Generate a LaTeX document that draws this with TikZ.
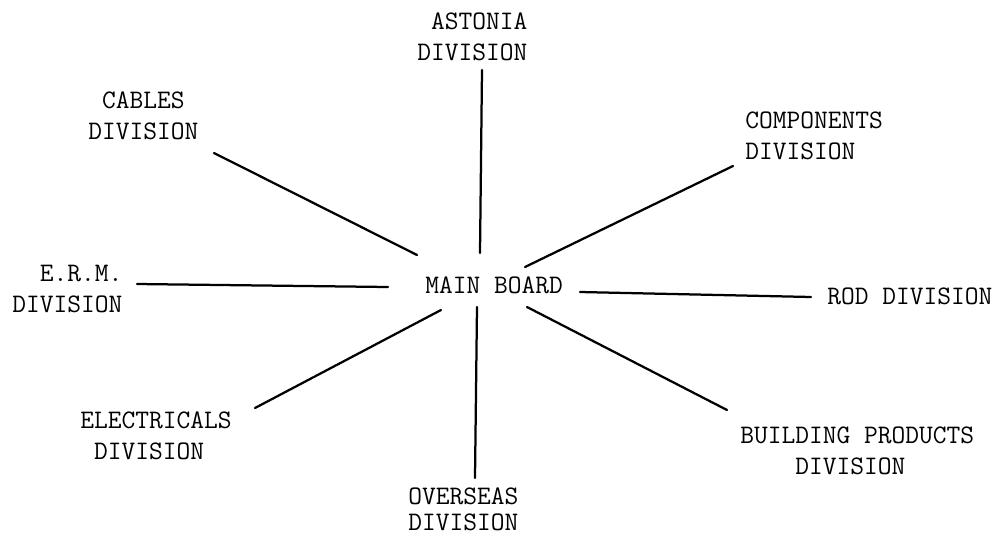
\documentclass[tikz,border=0pt]{standalone}
\usepackage{tikz}
\tikzset{
  division/.style={anchor=north west, inner sep=0pt, align=left,
    font=\ttfamily\fontsize{19}{22}\selectfont},
  spoke/.style={line width=1.6pt, line cap=round},
}

\begin{document}
\begin{tikzpicture}[x=0.025cm, y=-0.025cm]
 \useasboundingbox (0,0) rectangle (1002,535);

 \node[division] (main) at (425,277) {MAIN BOARD};

 \node[division] (astonia) at (417,13) {~ASTONIA\\DIVISION};
 \node[division] (cables) at (88,92) {~CABLES\\DIVISION};
 \node[division] (components) at (745,112) {COMPONENTS\\DIVISION};
 \node[division] (erm) at (12,265) {~~E.R.M.\\DIVISION};
 \node[division] (rod) at (827,288) {ROD DIVISION};
 \node[division] (electricals) at (80,412) {ELECTRICALS\\~DIVISION};
 \node[division] (overseas) at (408,488) {OVERSEAS\\[-4pt]DIVISION};
 \node[division] (building) at (740,427) {BUILDING PRODUCTS\\~~~~DIVISION};

 % spoke ends, outer and inner
 \coordinate (astonia-out) at (482,70);
 \coordinate (astonia-in) at (480,253);
 \coordinate (cables-out) at (214,153);
 \coordinate (cables-in) at (417,255);
 \coordinate (components-out) at (733,166);
 \coordinate (components-in) at (525,267);
 \coordinate (erm-out) at (137,284);
 \coordinate (erm-in) at (388,287);
 \coordinate (rod-out) at (811,297);
 \coordinate (rod-in) at (580,292);
 \coordinate (electricals-out) at (255,408);
 \coordinate (electricals-in) at (441,310);
 \coordinate (overseas-out) at (475,478);
 \coordinate (overseas-in) at (477,307);
 \coordinate (building-out) at (727,410);
 \coordinate (building-in) at (527,307);

 \foreach \d in {astonia, cables, components, erm, rod, electricals, overseas, building}
   \draw[spoke] (\d-out) -- (\d-in);

\end{tikzpicture}
\end{document}
